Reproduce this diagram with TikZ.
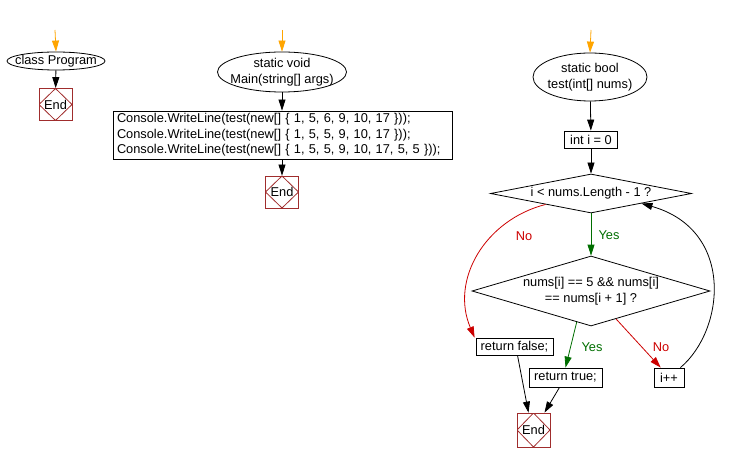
\documentclass[tikz,border=0pt]{standalone}
\usepackage{fontspec}
\setmainfont{Liberation Sans}
\usepackage{xcolor}
\usepackage{tikz}
\usetikzlibrary{calc, shapes.geometric, arrows.meta}
\definecolor{flowred}{RGB}{204,0,0}
\definecolor{flowgreen}{RGB}{0,110,0}
\definecolor{floworange}{RGB}{255,165,0}
\definecolor{endred}{RGB}{160,45,45}
\tikzset{every node/.append style={font=\fontsize{12.8}{15.5}\selectfont},
  startshape/.style={draw, ellipse, inner xsep=-8pt, inner ysep=-2pt, align=center},
  stepbox/.style={draw, rectangle, inner sep=0pt},
  testshape/.style={draw, diamond, inner sep=0pt, align=center},
  endbox/.style={draw=endred, rectangle, inner sep=0pt, minimum width=33pt, minimum height=32pt,
    path picture={\draw[endred] (path picture bounding box.north) -- (path picture bounding box.east)
      -- (path picture bounding box.south) -- (path picture bounding box.west) -- cycle;}},
  yeslabel/.style={text=flowgreen},
  nolabel/.style={text=flowred}}

\begin{document}
\begin{tikzpicture}[x=1pt, y=-1pt, >={Triangle[length=11pt, width=7pt]}, line width=0.8pt]
    \useasboundingbox (0,0) rectangle (730,462);
    \coordinate (s1) at (55,30);
    \coordinate (s2) at (282,30);
    \coordinate (s3) at (591,30);
    \node[startshape, minimum width=98pt, minimum height=18pt] (prog) at (56,61) {class Program};
    \node[endbox] (end1) at (55.5,104.5) {End};
    \node[startshape, minimum width=129pt, minimum height=40pt] (main) at (282,72) {static void\\Main(string[] args)};
    \node[stepbox, text width=331pt, align=left, inner xsep=4pt, minimum height=48pt] (calls) at (282.5,135)
        {Console.WriteLine(test(new[] \{ 1, 5, 6, 9, 10, 17 \}));\\
         Console.WriteLine(test(new[] \{ 1, 5, 5, 9, 10, 17 \}));\\
         Console.WriteLine(test(new[] \{ 1, 5, 5, 9, 10, 17, 5, 5 \}));};
    \node[endbox] (end2) at (282,192) {End};
    \node[startshape, minimum width=114pt, minimum height=48pt] (test) at (590,77) {static bool\\test(int[] nums)};
    \node[stepbox, minimum width=53pt, minimum height=17pt] (init) at (591,139.5) {int i = 0};
    \node[testshape, minimum width=201pt, minimum height=39pt, shape aspect=5.1] (cond1) at (591,193.5) {i < nums.Length - 1 ?};
    \node[testshape, minimum width=238pt, minimum height=70pt, shape aspect=3.4] (cond2) at (591,291) {nums[i] == 5 \&\& nums[i]\\== nums[i + 1] ?};
    \node[stepbox, minimum width=77pt, minimum height=17pt] (false) at (514.5,346.5) {return false;};
    \node[stepbox, minimum width=73pt, minimum height=19pt] (true) at (565.5,377.5) {return true;};
    \node[stepbox, minimum width=30pt, minimum height=19pt] (inc) at (669,377.5) {i++};
    \node[endbox, minimum height=34pt] (end3) at (533.5,430) {End};
    \node[nolabel] (no1) at (524,236) {No};
    \node[yeslabel] (yes1) at (609,235) {Yes};
    \node[yeslabel] (yes2) at (592,347) {Yes};
    \node[nolabel] (no2) at (661,347) {No};

    \draw[->, floworange] (s1) -- (prog.north);
    \draw[->, floworange] (s2) -- (main.north);
    \draw[->, floworange] (s3) -- (test.north);
    \draw[->] (prog) -- (end1);
    \draw[->] (main.south) -- (main.south |- calls.north);
    \draw[->] (calls.south -| end2.north) -- (end2.north);
    \draw[->] (test) -- (init);
    \draw[->] (init) -- (cond1.north);
    \draw[->, flowgreen] (cond1.south) -- (cond2.north);
    \draw[->, flowred] ($(cond1.south)!0.45!(cond1.west)$) .. controls (485,220) and (450,280) .. ($(false.north west)+(-1,0)$);
    \draw[->, flowgreen] ($(cond2.south)!0.12!(cond2.west)$) -- (true.north);
    \draw[->, flowred] ($(cond2.south)!0.21!(cond2.east)$) -- ($(inc.north west)!0.23!(inc.north east)$);
    \draw[->] ($(inc.north west)!0.87!(inc.north east)$) .. controls (725,330) and (735,230) .. ($(cond1.south)!0.5!(cond1.east)$);
    \draw[->] ($(false.south)+(3,0)$) -- ($(end3.north)+(-5,0)$);
    \draw[->] ($(true.south)+(-6,0)$) -- ($(end3.north)+(11,0)$);
\end{tikzpicture}
\end{document}
